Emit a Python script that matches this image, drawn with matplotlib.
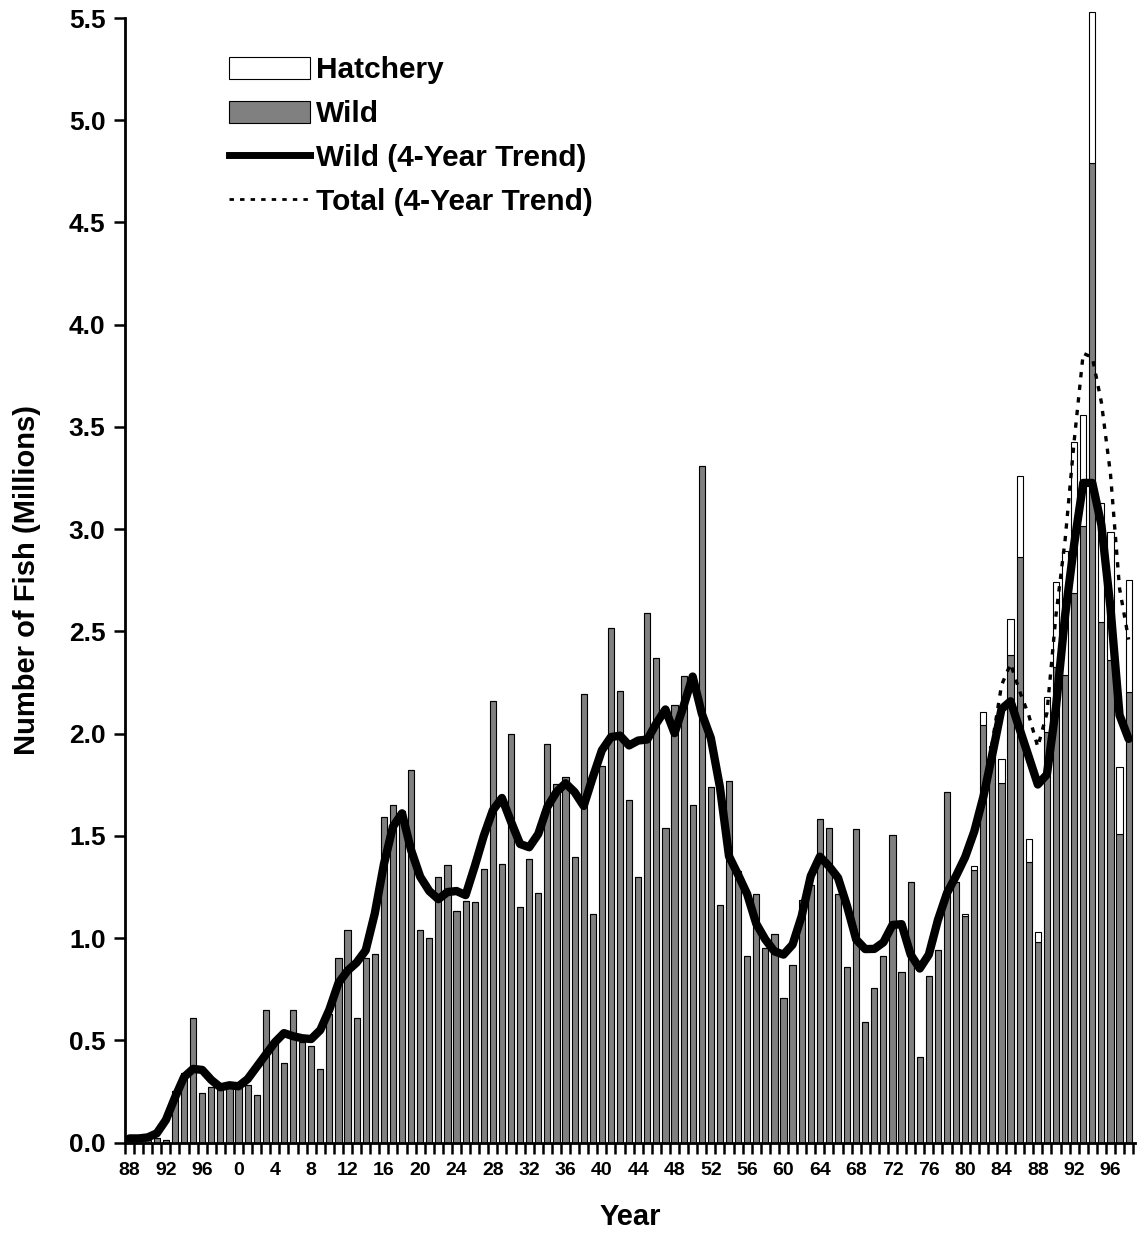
import matplotlib
matplotlib.use("Agg")
import matplotlib.pyplot as plt
from matplotlib.patches import Patch
from matplotlib.lines import Line2D
import numpy as np

plt.rcParams['font.family'] = ['Liberation Sans', 'DejaVu Sans']
plt.rcParams['font.weight'] = 'bold'

years = list(range(1888, 1999))

wild = [0.01, 0.01, 0.01, 0.02, 0.01, 0.25, 0.34, 0.61, 0.24, 0.27,
        0.27, 0.27, 0.27, 0.28, 0.23, 0.65, 0.49, 0.39, 0.65, 0.49,
        0.47, 0.36, 0.63, 0.90, 1.04, 0.61, 0.90, 0.92, 1.59, 1.65,
        1.62, 1.82, 1.04, 1.00, 1.30, 1.355, 1.13, 1.18, 1.175, 1.34,
        2.16, 1.36, 2.00, 1.15, 1.385, 1.22, 1.95, 1.755, 1.79, 1.395,
        2.195, 1.12, 1.84, 2.515, 2.21, 1.675, 1.30, 2.59, 2.37, 1.54,
        2.14, 2.28, 1.65, 3.31, 1.74, 1.16, 1.77, 1.33, 0.91, 1.215,
        0.95, 1.02, 0.705, 0.867, 1.187, 1.26, 1.58, 1.54, 1.215, 0.86,
        1.533, 0.59, 0.755, 0.91, 1.506, 0.835, 1.273, 0.418, 0.816, 0.943,
        1.714, 1.273, 1.11, 1.333, 2.04, 1.94, 1.757, 2.385, 2.864, 1.373,
        0.981, 2.009, 2.327, 2.288, 2.687, 3.013, 4.79, 2.546, 2.358, 1.509,
        2.203]

hatchery = [0.0] * 92 + [0.01, 0.017, 0.066, 0.0, 0.12, 0.174, 0.396, 0.113,
                         0.051, 0.171, 0.415, 0.607, 0.738, 0.547, 0.737,
                         0.583, 0.626, 0.329, 0.546]

wild_trend = [0.02, 0.02, 0.025, 0.045, 0.11, 0.22, 0.32, 0.36, 0.355, 0.306,
              0.27, 0.28, 0.275, 0.31, 0.37, 0.43, 0.49, 0.535, 0.52, 0.51,
              0.506, 0.55, 0.65, 0.78, 0.84, 0.88, 0.94, 1.12, 1.36, 1.545,
              1.61, 1.43, 1.30, 1.23, 1.19, 1.225, 1.23, 1.21, 1.35, 1.50,
              1.625, 1.685, 1.569, 1.46, 1.444, 1.509, 1.641, 1.714, 1.757, 1.714,
              1.646, 1.786, 1.918, 1.983, 1.99, 1.942, 1.966, 1.971, 2.05, 2.118,
              2.002, 2.135, 2.279, 2.099, 1.978, 1.738, 1.40, 1.31, 1.215, 1.07,
              0.993, 0.935, 0.919, 0.968, 1.107, 1.303, 1.398, 1.352, 1.295, 1.156,
              0.993, 0.946, 0.947, 0.979, 1.064, 1.068, 0.919, 0.851, 0.919, 1.088,
              1.22, 1.304, 1.396, 1.521, 1.69, 1.90, 2.12, 2.158, 2.022, 1.887,
              1.751, 1.80, 2.129, 2.576, 2.926, 3.226, 3.226, 3.02, 2.615, 2.09,
              1.974]

total_trend_years = list(range(1980, 1999))
total_trend = [1.40, 1.53, 1.70, 1.96, 2.236, 2.342, 2.207, 2.09, 1.935, 2.10,
               2.58, 2.945, 3.43, 3.86, 3.84, 3.62, 3.27, 2.71, 2.46]

xtick_years = list(range(1888, 1999, 4))
xtick_labels = ['88', '92', '96', '0', '4', '8', '12', '16', '20', '24', '28',
                '32', '36', '40', '44', '48', '52', '56', '60', '64', '68', '72',
                '76', '80', '84', '88', '92', '96']

W, H = 1138, 1238
fig = plt.figure(figsize=(W / 100, H / 100), dpi=100)
ax = fig.add_axes([125 / W, 1 - 1142.5 / H, 1010 / W, 1124.5 / H])

x = np.arange(len(years))
grey = '#808080'
ax.bar(x, wild, width=0.68, color=grey, edgecolor='black', linewidth=0.8,
       zorder=2, clip_on=False)
ax.bar(x, hatchery, width=0.68, bottom=wild, color='white', edgecolor='black',
       linewidth=0.8, zorder=2, clip_on=False)

tx = [years.index(y) for y in total_trend_years]
ax.plot(tx, total_trend, color='black', lw=2.4, linestyle=(0, (1.6, 2.2)),
        zorder=3)
ax.plot(x, wild_trend, color='black', lw=6, solid_joinstyle='round',
        solid_capstyle='round', zorder=4)

ax.set_xlim(-0.5, len(years) - 0.5 + 0.2)
ax.set_ylim(0, 5.5)
ax.set_yticks(np.arange(0, 5.51, 0.5))
ax.set_yticklabels([f'{v:.1f}' for v in np.arange(0, 5.51, 0.5)])
ax.set_xticks([years.index(y) for y in xtick_years])
ax.set_xticklabels(xtick_labels)
ax.set_xticks(np.arange(len(years) + 1) - 0.5, minor=True)

ax.tick_params(axis='y', which='major', direction='out', length=8, width=1.8,
               labelsize=19, pad=6)
ax.tick_params(axis='x', which='major', length=0, labelsize=14, pad=14)
ax.tick_params(axis='x', which='minor', direction='out', length=8, width=1.8)

for s in ['top', 'right']:
    ax.spines[s].set_visible(False)
for s in ['left', 'bottom']:
    ax.spines[s].set_linewidth(2)

ax.set_xlabel('Year', fontsize=21, fontweight='bold', labelpad=17)
ax.set_ylabel('Number of Fish (Millions)', fontsize=21, fontweight='bold',
              labelpad=20)

handles = [Patch(facecolor='white', edgecolor='black', linewidth=0.8),
           Patch(facecolor=grey, edgecolor='black', linewidth=0.8),
           Line2D([], [], color='black', lw=5),
           Line2D([], [], color='black', lw=2, linestyle=(0, (1.6, 2.2)))]
labels = ['Hatchery', 'Wild', 'Wild (4-Year Trend)', 'Total (4-Year Trend)']
leg = ax.legend(handles, labels, loc='upper left',
                bbox_to_anchor=(0.103, 0.966), frameon=False,
                prop={'size': 21.5, 'weight': 'bold'},
                handlelength=2.7, handleheight=0.75, handletextpad=0.2,
                labelspacing=0.53, borderpad=0, borderaxespad=0)

fig.savefig('out.png', dpi=100)
